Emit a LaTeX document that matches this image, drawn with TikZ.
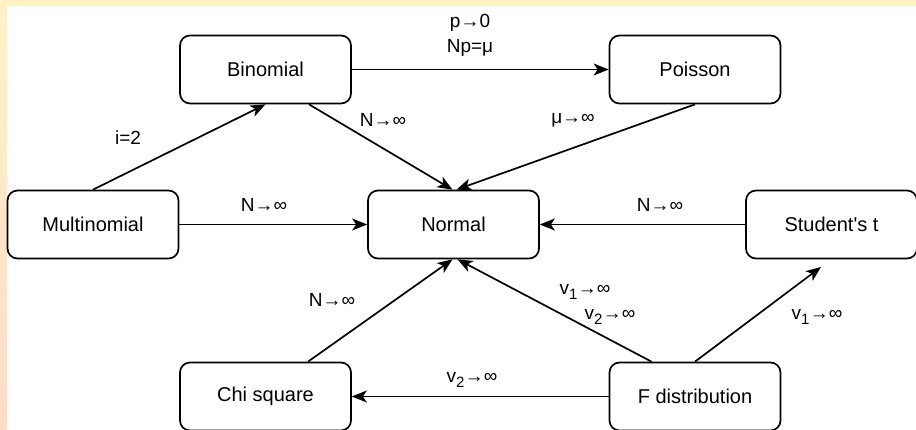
\documentclass[tikz,border=0pt]{standalone}
\usepackage{fontspec}
\setmainfont{Liberation Sans}
\usetikzlibrary{arrows.meta}
\definecolor{bgtop}{RGB}{255,243,196}
\definecolor{bgbot}{RGB}{255,219,200}
\tikzset{
  distbox/.style={draw=black, fill=white, line width=1.7pt, rounded corners=10pt,
    minimum width=171pt, minimum height=68pt, inner sep=0pt, font=\fontsize{20}{24}\selectfont},
  conn/.style={line width=1.7pt, -{Stealth[length=15pt, width=12pt, inset=4pt]}},
  lbl/.style={font=\fontsize{19}{25}\selectfont, inner sep=0pt, align=center}
}
\newcommand\lsub[1]{\textsubscript{\fontsize{15}{15}\selectfont #1}}
\begin{document}
\begin{tikzpicture}[x=1pt, y=-1pt]
\useasboundingbox (0,0) rectangle (916,430);
\fill[white] (0,0) rectangle (916,430);
\fill[bgtop] (0,0) rectangle (916,6);
\shade[top color=bgtop, bottom color=bgbot] (0,0) rectangle (6.5,430);
\node[distbox] (binom) at (265.5,69.5) {Binomial};
\node[distbox] (poiss) at (695,69.5) {Poisson};
\node[distbox] (multi) at (93,224.5) {Multinomial};
\node[distbox] (norm) at (453.5,224.5) {Normal};
\node[distbox] (stud) at (831.5,224.5) {Student\textquotesingle s t};
\node[distbox] (chi) at (265.5,396.5) {Chi square};
\node[distbox] (fdist) at (695,396.5) {F distribution};
\coordinate (studend) at (821,267);
% edges
\draw[conn] (multi.north) -- (binom.south);
\draw[conn] (binom.east) -- (poiss.west);
\draw[conn] ([xshift=43.5pt]binom.south) -- ([xshift=-1pt]norm.north);
\draw[conn] (poiss.south) -- ([xshift=3pt]norm.north);
\draw[conn] (multi.east) -- (norm.west);
\draw[conn] (stud.west) -- (norm.east);
\draw[conn] ([xshift=42.5pt]chi.north) -- ([xshift=-1pt]norm.north |- norm.south);
\draw[conn] ([xshift=-43.5pt]fdist.north) -- ([xshift=4pt]norm.north |- norm.south);
\draw[conn] (fdist.north) -- (studend);
\draw[conn] (fdist.west) -- (chi.east);
% labels
\node[lbl] (l1) at (128,138) {i=2};
\node[lbl] (l2) at (470,23) {p→0};
\node[lbl] (l3) at (470,48) {Np=μ};
\node[lbl] (l4) at (383,120) {N→∞};
\node[lbl] (l5) at (573,120) {μ→∞};
\node[lbl] (l6) at (264,205) {N→∞};
\node[lbl] (l7) at (660,205) {N→∞};
\node[lbl] (l8) at (332,300) {N→∞};
\node[lbl] (l9) at (585,292) {v\lsub{1}→∞};
\node[lbl] (l10) at (610,317) {v\lsub{2}→∞};
\node[lbl] (l11) at (817,317) {v\lsub{1}→∞};
\node[lbl] (l12) at (472,380) {v\lsub{2}→∞};
\end{tikzpicture}
\end{document}
